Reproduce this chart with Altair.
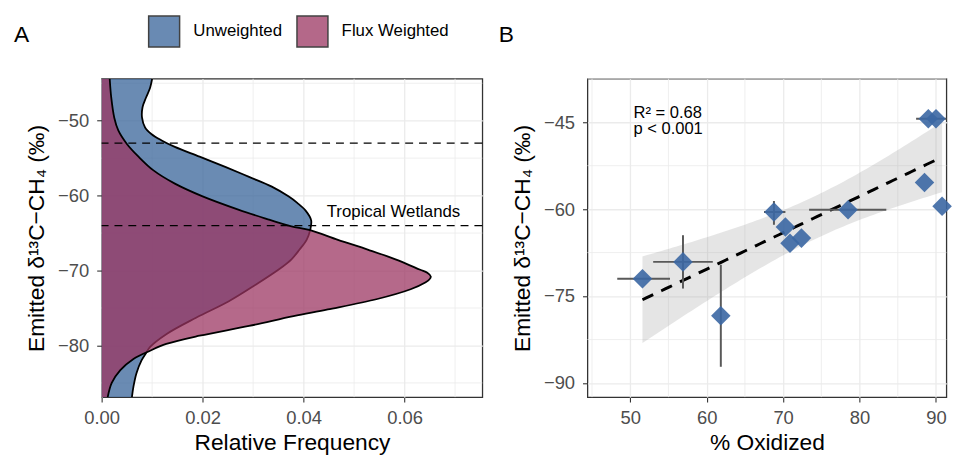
import altair as alt
import numpy as np
import pandas as pd

FONT = "Liberation Sans"

# ---------------- Panel A: density curves ----------------
unw_d13 = [-44.4, -45.6, -46.9, -48.2, -49.6, -50.9, -51.8, -52.6, -53.5, -54.8,
           -56.2, -57.5, -58.8, -60.1, -61.0, -62.0, -63.3, -64.6, -65.9, -67.2,
           -68.5, -69.8, -71.9, -74.1, -76.3, -78.5, -80.2, -80.9, -82.0, -83.7,
           -85.5, -86.9]
unw_dens = [0.0100, 0.0096, 0.0088, 0.0081, 0.0080, 0.0086, 0.0099, 0.0118, 0.0145, 0.0194,
            0.0246, 0.0292, 0.0337, 0.0370, 0.0388, 0.0404, 0.0415, 0.0413, 0.0406, 0.0392,
            0.0376, 0.0352, 0.0305, 0.0252, 0.0187, 0.0128, 0.0096, 0.0089, 0.0079, 0.0069,
            0.0063, 0.0060]
flux_d13 = [-44.4, -46.9, -49.6, -51.3, -53.1, -54.8, -56.6, -58.4, -60.1, -61.9,
            -63.2, -63.6, -64.1, -64.6, -65.9, -67.2, -68.5, -69.9, -70.3, -70.8,
            -71.2, -71.6, -72.5, -73.8, -75.2, -76.1, -77.4, -78.7, -79.8, -80.7,
            -81.8, -83.3, -85.0, -86.9]
flux_dens = [0.0016, 0.0019, 0.0025, 0.0033, 0.0050, 0.0073, 0.0102, 0.0145, 0.0200, 0.0272,
             0.0331, 0.0350, 0.0376, 0.0413, 0.0468, 0.0527, 0.0582, 0.0631, 0.0645, 0.0652,
             0.0649, 0.0641, 0.0612, 0.0546, 0.0448, 0.0380, 0.0292, 0.0194, 0.0128, 0.0096,
             0.0063, 0.0037, 0.0020, 0.0012]
series_names = ["Unweighted", "Flux Weighted"]
series_colors = ["#366299", "#9b3461"]

ref_lines = [-53, -64]
ref_label = ["Tropical Wetlands"]
ref_label_x = [0.0578]
ref_label_y = [-62.8]

a_xticks = [0, 0.02, 0.04, 0.06]
a_xminor = [0.01, 0.03, 0.05, 0.07]
a_yticks = [-80, -70, -60, -50]
a_yminor = [-85, -75, -65, -55, -45]

# ---------------- Panel B: scatter ----------------
pct_ox = [51.6, 56.9, 61.85, 68.8, 70.3, 70.9, 72.4, 78.5, 88.5, 89.0, 90.0, 90.8]
d13_em = [-72.0, -69.1, -78.4, -60.5, -63.1, -65.9, -65.0, -60.1, -55.4, -44.4, -44.4, -59.5]
x_lo = [48.3, 53.0, None, 67.5, None, None, None, 73.4, None, None, 87.4, None]
x_hi = [55.2, 60.8, None, 70.3, None, None, None, 83.5, None, None, 92.0, None]
y_lo = [None, -73.7, -87.2, -62.7, None, None, None, None, None, None, None, None]
y_hi = [None, -64.5, -69.6, -58.6, None, None, None, None, None, None, None, None]

stats_text = ["R² = 0.68", "p < 0.001"]
stats_x = [50.43, 50.43]
stats_y = [-44.3, -47.05]

b_xticks = [50, 60, 70, 80, 90]
b_xminor = [45, 55, 65, 75, 85]
b_yticks = [-90, -75, -60, -45]
b_yminor = [-82.5, -67.5, -52.5, -37.5]

YTITLE = "Emitted δ¹³C−CH₄ (‰)"

# ---------------- tables ----------------
df_unw = pd.DataFrame({"d13": unw_d13, "dens": unw_dens, "series": series_names[0]})
df_flux = pd.DataFrame({"d13": flux_d13, "dens": flux_dens, "series": series_names[1]})
df_ref = pd.DataFrame({"d13": ref_lines})
df_lab = pd.DataFrame({"dens": ref_label_x, "d13": ref_label_y, "label": ref_label})
df_axminor = pd.DataFrame({"dens": a_xminor})
df_ayminor = pd.DataFrame({"d13": a_yminor})

df_pts = pd.DataFrame({"ox": pct_ox, "d13b": d13_em, "xlo": x_lo, "xhi": x_hi,
                       "ylo": y_lo, "yhi": y_hi})
df_stats = pd.DataFrame({"ox": stats_x, "d13b": stats_y, "label": stats_text})
df_bxminor = pd.DataFrame({"ox": b_xminor})
df_byminor = pd.DataFrame({"d13b": b_yminor})

# linear fit with 95% confidence band (as geom_smooth(method = "lm"))
xs = np.array(pct_ox)
ys = np.array(d13_em)
slope, intercept = np.polyfit(xs, ys, 1)
n = len(xs)
resid = ys - (slope * xs + intercept)
s = np.sqrt((resid ** 2).sum() / (n - 2))
sxx = ((xs - xs.mean()) ** 2).sum()
grid = np.linspace(xs.min(), xs.max(), 80)
fit = slope * grid + intercept
se = s * np.sqrt(1.0 / n + (grid - xs.mean()) ** 2 / sxx)
t_crit = 2.228  # t(0.975, df = 10)
df_fit = pd.DataFrame({"ox": grid, "d13b": fit, "lo": fit - t_crit * se, "hi": fit + t_crit * se})

# ---------------- encodings ----------------
ax_scale = alt.Scale(domain=[0, 0.0754], nice=False, zero=False)
ay_scale = alt.Scale(domain=[-86.9, -44.4], nice=False, zero=False)
ax_axis = alt.Axis(values=a_xticks, format=".2f", title="Relative Frequency")
ay_axis = alt.Axis(values=a_yticks, title=YTITLE)


def AX(field="dens"):
    return alt.X(f"{field}:Q", scale=ax_scale, axis=ax_axis, stack=None)


def AY(field="d13"):
    return alt.Y(f"{field}:Q", scale=ay_scale, axis=ay_axis)


bx_scale = alt.Scale(domain=[44.4, 91.36], nice=False, zero=False)
by_scale = alt.Scale(domain=[-92.44, -37.5], nice=False, zero=False)
bx_axis = alt.Axis(values=b_xticks, title="% Oxidized")
by_axis = alt.Axis(values=b_yticks, title=YTITLE)


def BX(field="ox"):
    return alt.X(f"{field}:Q", scale=bx_scale, axis=bx_axis)


def BY(field="d13b"):
    return alt.Y(f"{field}:Q", scale=by_scale, axis=by_axis)


legend = alt.Legend(
    title=None, orient="none", legendX=46.7, legendY=-64.7, direction="horizontal",
    symbolType="square", symbolSize=980, symbolStrokeColor="black", symbolStrokeWidth=1.5,
    symbolOpacity=0.74, labelFont=FONT, labelFontSize=17, labelColor="black",
    labelOffset=13, columnPadding=11, padding=0,
)
color_enc = alt.Color("series:N", scale=alt.Scale(domain=series_names, range=series_colors),
                      legend=legend)

GRID = "#ebebeb"

# ---------------- Panel A ----------------
a_minor_x = alt.Chart(df_axminor).mark_rule(color=GRID, strokeWidth=0.8).encode(x=AX())
a_minor_y = alt.Chart(df_ayminor).mark_rule(color=GRID, strokeWidth=0.8).encode(y=AY())
area_u = alt.Chart(df_unw).mark_area(orient="horizontal", opacity=0.74,
                                     interpolate="catmull-rom", clip=True).encode(
    x=AX(), y=AY(), color=color_enc)
line_u = alt.Chart(df_unw).mark_line(color="black", strokeWidth=1.8,
                                     interpolate="catmull-rom", clip=True).encode(
    x=AX(), y=AY(), order=alt.Order("d13:Q"))
area_f = alt.Chart(df_flux).mark_area(orient="horizontal", opacity=0.74,
                                      interpolate="catmull-rom", clip=True).encode(
    x=AX(), y=AY(), color=color_enc)
line_f = alt.Chart(df_flux).mark_line(color="black", strokeWidth=1.8,
                                      interpolate="catmull-rom", clip=True).encode(
    x=AX(), y=AY(), order=alt.Order("d13:Q"))
refs = alt.Chart(df_ref).mark_rule(color="black", strokeWidth=1.4, strokeDash=[8, 6]).encode(y=AY())
lab = alt.Chart(df_lab).mark_text(font=FONT, fontSize=17, color="black", align="center",
                                  baseline="alphabetic").encode(x=AX(), y=AY(), text="label:N")

TITLE_OFFSET = 13.8

panel_a = alt.layer(a_minor_x, a_minor_y, area_u, line_u, area_f, line_f, refs, lab).properties(
    width=385, height=322,
    title=alt.TitleParams("A", anchor="start", frame="group", dx=-88.6, offset=TITLE_OFFSET,
                          fontSize=23, font=FONT, fontWeight="normal", baseline="alphabetic",
                          color="black"),
)

# ---------------- Panel B ----------------
b_minor_x = alt.Chart(df_bxminor).mark_rule(color=GRID, strokeWidth=0.8).encode(x=BX())
b_minor_y = alt.Chart(df_byminor).mark_rule(color=GRID, strokeWidth=0.8).encode(y=BY())
band = alt.Chart(df_fit).mark_area(color="#999999", opacity=0.25).encode(
    x=BX(), y=BY("lo"), y2="hi:Q")
fit_line = alt.Chart(df_fit).mark_line(color="black", strokeWidth=3, strokeDash=[12, 9]).encode(
    x=BX(), y=BY())
xerr = alt.Chart(df_pts).transform_filter("isValid(datum.xlo)").mark_rule(
    color="#595959", strokeWidth=2, clip=True).encode(x=BX("xlo"), x2="xhi:Q", y=BY())
yerr = alt.Chart(df_pts).transform_filter("isValid(datum.ylo)").mark_rule(
    color="#595959", strokeWidth=2).encode(x=BX(), y=BY("ylo"), y2="yhi:Q")
pts = alt.Chart(df_pts).mark_point(shape="diamond", filled=True, size=390, color="#3b67a3",
                                   opacity=0.9).encode(x=BX(), y=BY())
stats = alt.Chart(df_stats).mark_text(font=FONT, fontSize=16.7, color="black", align="left",
                                      baseline="alphabetic").encode(x=BX(), y=BY(), text="label:N")

panel_b = alt.layer(b_minor_x, b_minor_y, band, fit_line, xerr, yerr, pts, stats).properties(
    width=363, height=322,
    title=alt.TitleParams("B", anchor="start", frame="group", dx=-89.7, offset=TITLE_OFFSET,
                          fontSize=23, font=FONT, fontWeight="normal", baseline="alphabetic",
                          color="black"),
)

chart = alt.hconcat(panel_a, panel_b, spacing=13.3).properties(
    padding={"left": 4.7, "top": 4, "right": 0, "bottom": 0}
).configure_view(
    stroke="#333333", strokeWidth=1.3
).configure_axis(
    labelFont=FONT, labelFontSize=18.6, labelColor="#4d4d4d",
    tickColor="#333333", tickSize=5, tickWidth=1.1, domain=False,
    gridColor=GRID, gridWidth=1.3,
    titleFont=FONT, titleFontSize=23, titleFontWeight="normal", titleColor="black",
).configure_axisX(
    labelPadding=7, titlePadding=4, labelFlush=False
).configure_axisY(
    labelPadding=8, titlePadding=9
)

chart.save("out.html", embed_options={"renderer": "svg", "actions": False})
